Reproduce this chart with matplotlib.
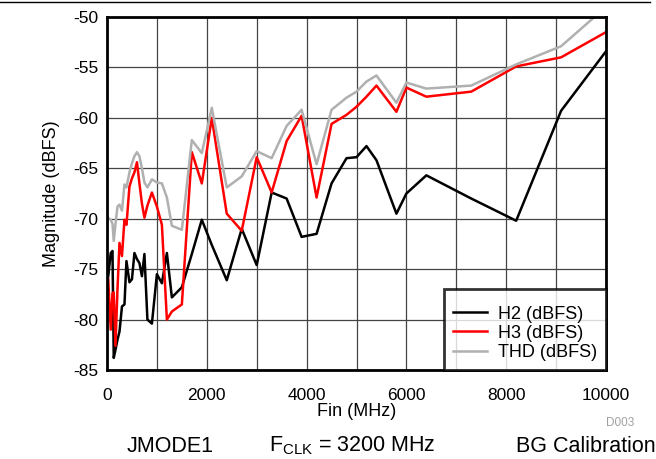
import matplotlib
matplotlib.use("Agg")
import matplotlib.pyplot as plt
from matplotlib.lines import Line2D

plt.rcParams['font.family'] = ['Liberation Sans', 'DejaVu Sans']

# Fin (MHz)
fin = [25, 75, 110, 135, 170, 210, 250, 300, 350, 390, 450, 500, 550, 600, 650,
       700, 750, 810, 900, 1000, 1100, 1200, 1300, 1500, 1700, 1900, 2100, 2400,
       2700, 3000, 3300, 3600, 3900, 4200, 4500, 4800, 5000, 5200, 5400, 5800,
       6000, 6400, 7300, 8200, 9100, 10000]

h2 = [-75.7, -73.4, -73.2, -83.8, -83.0, -82.0, -81.2, -78.7, -78.5, -74.2,
      -76.3, -76.0, -73.4, -74.0, -74.4, -75.7, -73.5, -80.0, -80.4, -75.5,
      -76.4, -73.4, -77.8, -76.8, -73.5, -70.1, -72.6, -76.1, -71.0, -74.6,
      -67.4, -68.0, -71.8, -71.5, -66.5, -64.0, -63.9, -62.8, -64.2, -69.5,
      -67.5, -65.7, -68.0, -70.2, -59.3, -53.4]

h3 = [-76.0, -81.0, -77.4, -77.3, -82.6, -77.0, -72.4, -73.7, -70.1, -70.6,
      -66.8, -66.0, -65.4, -64.4, -66.5, -68.5, -69.9, -68.7, -67.4, -68.8,
      -70.6, -80.0, -79.2, -78.5, -63.4, -66.5, -60.0, -69.5, -71.2, -63.9,
      -67.4, -62.3, -59.8, -67.9, -60.6, -59.7, -58.9, -57.9, -56.8, -59.4,
      -57.0, -57.9, -57.4, -54.9, -54.0, -51.5]

thd = [-69.9, -70.1, -70.5, -72.2, -70.5, -68.8, -68.6, -69.2, -66.6, -66.9,
       -65.4, -64.5, -63.8, -63.4, -63.8, -65.0, -66.4, -66.9, -66.1, -66.4,
       -66.5, -67.9, -70.7, -71.1, -62.2, -63.5, -59.0, -66.9, -65.8, -63.3,
       -64.0, -60.8, -59.2, -64.6, -59.2, -58.0, -57.4, -56.4, -55.8, -58.5,
       -56.5, -57.1, -56.8, -54.7, -52.9, -49.0]

xticks = [0, 2000, 4000, 6000, 8000, 10000]
yticks = [-85, -80, -75, -70, -65, -60, -55, -50]

fig = plt.figure(figsize=(6.56, 4.59), dpi=100)
ax = fig.add_axes([107/656, 1 - 370/459, 499/656, 353/459])

ax.plot(fin, h2, color='black', lw=1.8, label='H2 (dBFS)')
ax.plot(fin, h3, color='#ff0000', lw=1.8, label='H3 (dBFS)')
ax.plot(fin, thd, color='#b0b0b0', lw=1.8, label='THD (dBFS)')

ax.set_xlim(0, 10000)
ax.set_ylim(-85, -50)
ax.set_xticks(range(0, 10001, 1000))
ax.set_xticklabels([str(t) if t in xticks else '' for t in range(0, 10001, 1000)])
ax.set_yticks(yticks)
ax.set_yticklabels([str(t) for t in yticks])
ax.tick_params(axis='y', length=0, labelsize=12.5, pad=6)
ax.tick_params(axis='x', length=0, labelsize=12.5, pad=13)
ax.grid(True, color='#444444', lw=0.9)
ax.set_axisbelow(True)
for s in ax.spines.values():
    s.set_linewidth(2)

ax.set_xlabel('Fin (MHz)', fontsize=13, labelpad=0)
ax.set_ylabel('Magnitude (dBFS)', fontsize=13, labelpad=10)

leg = ax.legend(loc='lower right', fontsize=13, frameon=True, fancybox=False,
                edgecolor='black', borderaxespad=0, handlelength=1.9,
                handletextpad=0.6, labelspacing=0.12, borderpad=0.5,
                title=' ', title_fontsize=4)
leg.get_frame().set_linewidth(2)

fig.add_artist(Line2D([0, 650/656], [1 - 2/459, 1 - 2/459], color='black', lw=1))
fig.text(620/656, 1 - 423/459, 'D003', fontsize=8.5, color='#a0a0a0', ha='center', va='center')
fig.text(170/656, 1 - 446/459, 'JMODE1', fontsize=15.5, ha='center', va='center')
fig.text(352/656, 1 - 446/459, r'F$_{\mathregular{CLK}}$ = 3200 MHz', fontsize=15.5, ha='center', va='center')
fig.text(656/656, 1 - 446/459, 'BG Calibration', fontsize=15.5, ha='right', va='center')

fig.savefig('out.png', dpi=100)
